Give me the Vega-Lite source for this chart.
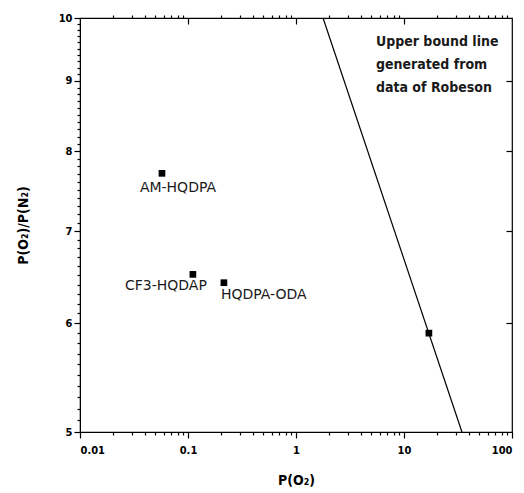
{
  "$schema": "https://vega.github.io/schema/vega-lite/v6.json",
  "width": 432,
  "height": 414,
  "autosize": "none",
  "padding": {"left": 80, "top": 18, "right": 12, "bottom": 61},
  "background": "white",
  "config": {
    "view": {"stroke": "black", "strokeWidth": 1.2},
    "font": "DejaVu Sans Condensed, Liberation Sans, sans-serif",
    "axis": {
      "domainColor": "black",
      "tickColor": "black",
      "tickWidth": 1.2,
      "labelColor": "black",
      "titleColor": "black",
      "labelFont": "DejaVu Sans Condensed, Liberation Sans, sans-serif",
      "titleFont": "DejaVu Sans Condensed, Liberation Sans, sans-serif",
      "labelFontWeight": "bold",
      "titleFontWeight": "bold",
      "labelFontSize": 11,
      "titleFontSize": 14,
      "grid": false,
      "labelOverlap": false
    }
  },
  "datasets": {
    "pts": [
      {"p": 0.0574, "sel": 7.71, "name": "AM-HQDPA"},
      {"p": 0.111, "sel": 6.51, "name": "CF3-HQDAP"},
      {"p": 0.215, "sel": 6.42, "name": "HQDPA-ODA"},
      {"p": 17.0, "sel": 5.9, "name": ""}
    ],
    "bound": [
      {"p": 1.78, "sel": 10},
      {"p": 34.4, "sel": 5}
    ],
    "note": [
      {"p": 5.5, "sel": 9.72, "text": "Upper bound line\ngenerated from\ndata of Robeson"}
    ]
  },
  "resolve": {"axis": {"x": "independent", "y": "independent"}},
  "layer": [
    {
      "data": {"name": "pts"},
      "mark": {"type": "square", "size": 45, "color": "black", "opacity": 1},
      "encoding": {
        "x": {
          "field": "p", "type": "quantitative",
          "scale": {"type": "log", "domain": [0.01, 100], "nice": false},
          "axis": {
            "orient": "bottom",
            "title": "P(O₂)",
            "titlePadding": 18,
            "values": [0.01, 0.1, 1, 10, 100],
            "format": "~g",
            "tickSize": 6,
            "labelPadding": 6
          }
        },
        "y": {
          "field": "sel", "type": "quantitative",
          "scale": {"type": "log", "domain": [5, 10], "nice": false, "zero": false},
          "axis": {
            "orient": "left",
            "title": "P(O₂)/P(N₂)",
            "titlePadding": 28,
            "values": [5, 6, 7, 8, 9, 10],
            "format": "d",
            "tickSize": 6,
            "labelPadding": 2
          }
        }
      }
    },
    {
      "data": {"name": "bound"},
      "mark": {"type": "line", "color": "black", "strokeWidth": 1.2},
      "encoding": {
        "x": {
          "field": "p", "type": "quantitative",
          "axis": {
            "orient": "bottom", "title": null, "labels": false, "domain": false,
            "values": [0.02,0.03,0.04,0.05,0.06,0.07,0.08,0.09,0.2,0.3,0.4,0.5,0.6,0.7,0.8,0.9,2,3,4,5,6,7,8,9,20,30,40,50,60,70,80,90],
            "tickSize": 3
          }
        },
        "y": {
          "field": "sel", "type": "quantitative",
          "axis": {
            "orient": "left", "title": null, "labels": false, "domain": false,
            "values": [5.1,5.2,5.3,5.4,5.5,5.6,5.7,5.8,5.9,6.1,6.2,6.3,6.4,6.5,6.6,6.7,6.8,6.9,7.1,7.2,7.3,7.4,7.5,7.6,7.7,7.8,7.9,8.1,8.2,8.3,8.4,8.5,8.6,8.7,8.8,8.9,9.1,9.2,9.3,9.4,9.5,9.6,9.7,9.8,9.9],
            "tickSize": 3
          }
        }
      }
    },
    {
      "data": {"name": "pts"},
      "transform": [{"filter": "datum.name == 'AM-HQDPA'"}],
      "mark": {"type": "text", "align": "center", "baseline": "middle", "dx": 16, "dy": 15, "fontSize": 14, "font": "DejaVu Sans, Liberation Sans, sans-serif", "color": "#1a1a1a"},
      "encoding": {
        "x": {"field": "p", "type": "quantitative",
          "axis": {
            "orient": "top", "title": null, "labels": false, "domain": false,
            "values": [0.02,0.03,0.04,0.05,0.06,0.07,0.08,0.09,0.2,0.3,0.4,0.5,0.6,0.7,0.8,0.9,2,3,4,5,6,7,8,9,20,30,40,50,60,70,80,90],
            "tickSize": 3
          }},
        "y": {"field": "sel", "type": "quantitative",
          "axis": {
            "orient": "right", "title": null, "labels": false, "domain": false,
            "values": [6, 7, 8, 9],
            "tickSize": -6
          }},
        "text": {"field": "name"}
      }
    },
    {
      "data": {"name": "pts"},
      "transform": [{"filter": "datum.name == 'CF3-HQDAP'"}],
      "mark": {"type": "text", "align": "right", "baseline": "middle", "dx": 14, "dy": 12, "fontSize": 14, "font": "DejaVu Sans, Liberation Sans, sans-serif", "color": "#1a1a1a"},
      "encoding": {
        "x": {"field": "p", "type": "quantitative",
          "axis": {
            "orient": "top", "title": null, "labels": false, "domain": false,
            "values": [0.1, 1, 10],
            "tickSize": -6
          }},
        "y": {"field": "sel", "type": "quantitative", "axis": null},
        "text": {"field": "name"}
      }
    },
    {
      "data": {"name": "pts"},
      "transform": [{"filter": "datum.name == 'HQDPA-ODA'"}],
      "mark": {"type": "text", "align": "left", "baseline": "middle", "dx": -3, "dy": 12, "fontSize": 14, "font": "DejaVu Sans, Liberation Sans, sans-serif", "color": "#1a1a1a"},
      "encoding": {"x": {"field": "p", "type": "quantitative", "axis": null}, "y": {"field": "sel", "type": "quantitative", "axis": null}, "text": {"field": "name"}}
    },
    {
      "data": {"name": "note"},
      "mark": {"type": "text", "align": "left", "baseline": "top", "fontSize": 14, "fontWeight": "bold", "lineHeight": 23, "lineBreak": "\n", "font": "DejaVu Sans Condensed, Liberation Sans, sans-serif", "color": "#1a1a1a"},
      "encoding": {
        "x": {"field": "p", "type": "quantitative", "axis": null},
        "y": {"field": "sel", "type": "quantitative", "axis": null},
        "text": {"field": "text"}
      }
    }
  ]
}
